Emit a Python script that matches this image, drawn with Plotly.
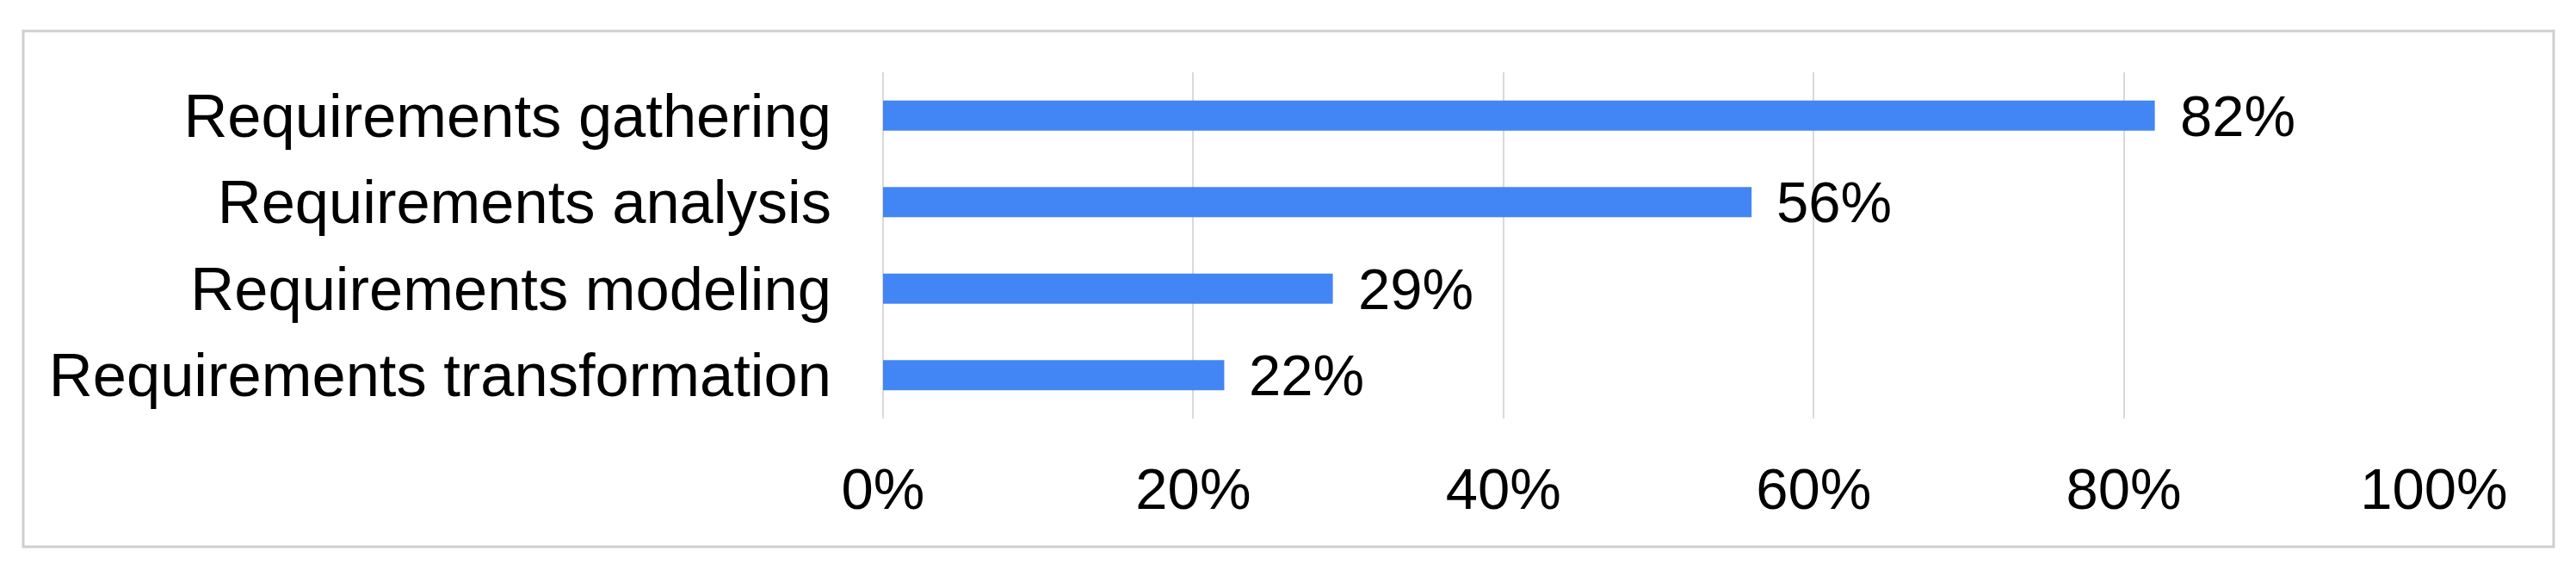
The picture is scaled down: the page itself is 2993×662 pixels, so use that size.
import plotly.graph_objects as go

categories = ["Requirements gathering", "Requirements analysis",
              "Requirements modeling", "Requirements transformation"]
values = [0.82, 0.56, 0.29, 0.22]
tick_vals = [0, 0.2, 0.4, 0.6, 0.8, 1.0]
tick_text = ["0%", "20%", "40%", "60%", "80%", "100%"]

FONT = "Liberation Sans, Arial, Helvetica, sans-serif"
# page body has an 8px default margin, so the figure is offset by 8px
W, H = 2985, 654
L, R, T, B = 1018, 165, 76, 176

fig = go.Figure()
fig.add_trace(go.Bar(
    x=values, y=categories, orientation="h",
    marker=dict(color="#4285F4", line=dict(width=0)),
    hoverinfo="skip",
))

for v, c in zip(values, categories):
    fig.add_annotation(x=v, y=c, xref="x", yref="y", text=f"{round(v*100)}%",
                       showarrow=False, xanchor="left", yanchor="middle",
                       xshift=27, font=dict(family=FONT, size=67, color="#000000"))

fig.update_layout(
    width=W, height=H,
    margin=dict(l=L, r=R, t=T, b=B),
    paper_bgcolor="white", plot_bgcolor="white",
    bargap=0.65,
    showlegend=False,
    font=dict(family=FONT, color="#000000"),
)
fig.update_xaxes(
    range=[0, 1.0], tickvals=tick_vals, ticktext=tick_text,
    showgrid=True, gridcolor="#d9d9d9", gridwidth=2,
    zeroline=True, zerolinecolor="#d9d9d9", zerolinewidth=2,
    showline=False,
    ticks="outside", ticklen=24, tickcolor="rgba(0,0,0,0)",
    tickfont=dict(family=FONT, size=67, color="#000000"),
)
fig.update_yaxes(
    categoryorder="array", categoryarray=categories, autorange="reversed",
    showgrid=False, zeroline=False, showline=False,
    ticks="outside", ticklen=45, tickcolor="rgba(0,0,0,0)",
    tickfont=dict(family=FONT, size=70.5, color="#000000"),
)

pw, ph = W - L - R, H - T - B
bx0, bx1, by0, by1 = 19, 2959, 28, 627
fig.add_shape(type="rect", xref="paper", yref="paper",
              x0=(bx0 - L) / pw, x1=(bx1 - L) / pw,
              y0=(H - B - by1) / ph, y1=(H - B - by0) / ph,
              line=dict(color="#cfcfcf", width=3), layer="below")

fig.write_html("out.html")
